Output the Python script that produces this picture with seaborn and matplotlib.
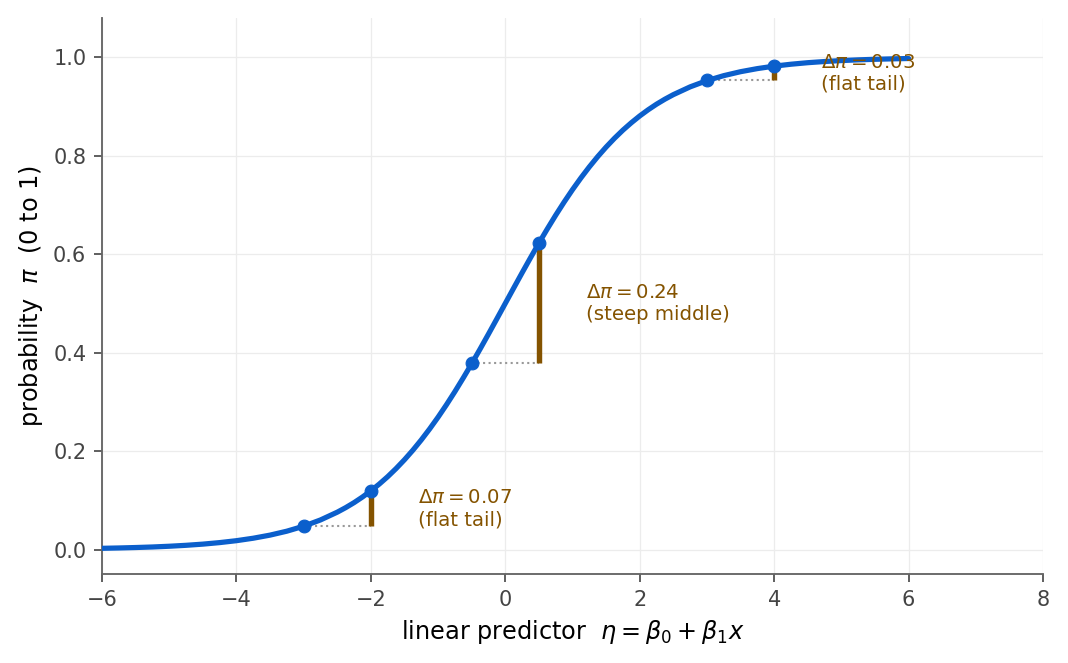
#!/usr/bin/env python3
"""
Logistic curve: equal steps in eta give unequal steps in pi.
Flat in the tails, steep in the middle.
"""

import pandas as pd
import matplotlib.pyplot as plt
import seaborn as sns

# Curve values (eta, pi)
ETA = [-6.0, -5.75, -5.5, -5.25, -5.0, -4.75, -4.5, -4.25, -4.0, -3.75, -3.5,
       -3.25, -3.0, -2.75, -2.5, -2.375, -2.25, -2.125, -2.0, -1.875, -1.75,
       -1.625, -1.5, -1.375, -1.25, -1.125, -1.0, -0.875, -0.75, -0.625, -0.5,
       -0.375, -0.25, -0.125, 0.0, 0.125, 0.25, 0.375, 0.5, 0.625, 0.75, 0.875,
       1.0, 1.125, 1.25, 1.375, 1.5, 1.625, 1.75, 1.875, 2.0, 2.125, 2.25,
       2.375, 2.5, 2.75, 3.0, 3.25, 3.5, 3.75, 4.0, 4.25, 4.5, 4.75, 5.0, 5.25,
       5.5, 5.75, 6.0]
PI = [0.0025, 0.0032, 0.0041, 0.0052, 0.0067, 0.0086, 0.0110, 0.0141, 0.0180,
      0.0230, 0.0293, 0.0373, 0.0474, 0.0601, 0.0759, 0.0851, 0.0953, 0.1067,
      0.1192, 0.1330, 0.1480, 0.1645, 0.1824, 0.2018, 0.2227, 0.2451, 0.2689,
      0.2942, 0.3208, 0.3487, 0.3775, 0.4073, 0.4378, 0.4688, 0.5000, 0.5312,
      0.5622, 0.5927, 0.6225, 0.6513, 0.6792, 0.7058, 0.7311, 0.7549, 0.7773,
      0.7982, 0.8176, 0.8355, 0.8520, 0.8670, 0.8808, 0.8933, 0.9047, 0.9149,
      0.9241, 0.9399, 0.9526, 0.9627, 0.9707, 0.9770, 0.9820, 0.9859, 0.9890,
      0.9914, 0.9933, 0.9948, 0.9959, 0.9968, 0.9975]

# One-unit steps in eta: start and end of each step
STEP_X0 = [-3.0, -0.5, 3.0]
STEP_X1 = [-2.0, 0.5, 4.0]
STEP_Y0 = [0.047, 0.378, 0.953]
STEP_Y1 = [0.119, 0.622, 0.982]
STEP_NOTES = ["flat tail", "steep middle", "flat tail"]

BLUE = "#0b5fcc"
BROWN = "#845300"


def main():
    sns.set_theme(style="whitegrid")
    plt.rcParams["font.family"] = ["DejaVu Sans"]

    fig, ax = plt.subplots(figsize=(7.12, 4.42), dpi=150)
    fig.subplots_adjust(left=0.0955, right=0.9766, top=0.973, bottom=0.134)

    curve = pd.DataFrame({"eta": ETA, "pi": PI})
    sns.lineplot(data=curve, x="eta", y="pi", ax=ax, color=BLUE,
                 linewidth=2.5, zorder=3)
    for line in ax.get_lines():
        line.set_solid_joinstyle("round")

    for x0, x1, y0, y1, note in zip(STEP_X0, STEP_X1, STEP_Y0, STEP_Y1,
                                    STEP_NOTES):
        ax.plot([x0, x1], [y0, y0], color="#999999", linestyle=":",
                linewidth=1.0, zorder=2)
        ax.plot([x1, x1], [y0, y1], color=BROWN, linewidth=2.6,
                solid_capstyle="butt", zorder=2)
        ax.text(x1 + 0.7, (y0 + y1) / 2,
                f"$\\Delta\\pi = {y1 - y0:.2f}$\n({note})",
                color=BROWN, fontsize=9.5, va="center", ha="left", zorder=4)

    pts = pd.DataFrame({"eta": STEP_X0 + STEP_X1, "pi": STEP_Y0 + STEP_Y1})
    sns.scatterplot(data=pts, x="eta", y="pi", ax=ax, color=BLUE, s=38,
                    edgecolor=BLUE, linewidth=0.5, zorder=5)

    ax.set_xlim(-6, 8)
    ax.set_ylim(-0.05, 1.08)
    ax.set_xticks([-6, -4, -2, 0, 2, 4, 6, 8])
    ax.set_yticks([0.0, 0.2, 0.4, 0.6, 0.8, 1.0])
    ax.set_yticklabels([f"{v:.1f}" for v in [0.0, 0.2, 0.4, 0.6, 0.8, 1.0]])

    ax.set_xlabel(r"linear predictor  $\eta = \beta_0 + \beta_1 x$",
                  fontsize=11.5, color="black", labelpad=4)
    ax.set_ylabel(r"probability  $\pi$  (0 to 1)", fontsize=11.5,
                  color="black", labelpad=4)

    ax.set_facecolor("white")
    ax.grid(True, color="#ececec", linewidth=0.6)
    for side in ["top", "right"]:
        ax.spines[side].set_visible(False)
    for side in ["left", "bottom"]:
        ax.spines[side].set_visible(True)
        ax.spines[side].set_color("#666666")
        ax.spines[side].set_linewidth(0.9)
    ax.tick_params(axis="both", colors="#444444", labelsize=10, length=4,
                   width=0.8, left=True, bottom=True)
    ax.tick_params(axis="both", labelcolor="#444444")

    fig.savefig("out.png", dpi=150, facecolor="white")
    plt.close(fig)


if __name__ == "__main__":
    main()
